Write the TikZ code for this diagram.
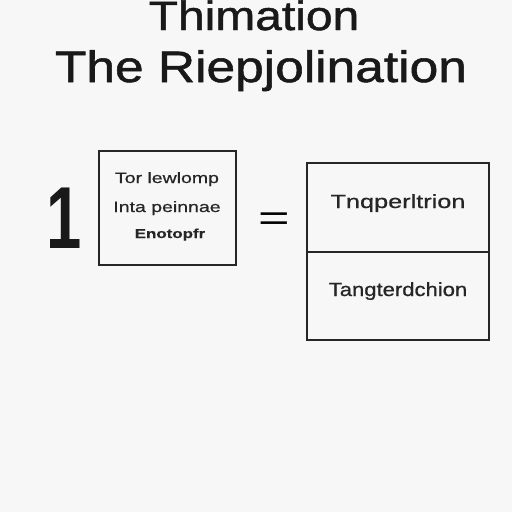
\documentclass[tikz,border=0pt]{standalone}
\usepackage{fontspec}
\setmainfont{Liberation Sans}
\newfontfamily\titlefont[FakeStretch=1.17,FakeBold=1.2]{Liberation Sans}
\newfontfamily\leftfont[FakeStretch=1.3,FakeBold=0.6]{Liberation Sans}
\newfontfamily\rightfontA[FakeStretch=1.33,FakeBold=0.8]{Liberation Sans}
\newfontfamily\rightfontB[FakeStretch=1.16,FakeBold=0.8]{Liberation Sans}
\newfontfamily\eqfont[FakeStretch=1.5]{Liberation Sans}
\newfontfamily\onefont[FakeStretch=0.72]{Liberation Sans Bold}
\begin{document}
\begin{tikzpicture}[x=1pt,y=-1pt,
  box/.style={draw=black!85, line width=1.6pt},
  title/.style={text=black!90, anchor=base},
  lbl/.style={font=\leftfont\fontsize{15}{17}\selectfont, text=black!85, anchor=base},
  rlbl/.style={text=black!85, anchor=base}]
\useasboundingbox[fill=black!3] (0,0) rectangle (512,512);
\node[title, font=\titlefont\fontsize{41}{46}\selectfont] (t1) at (254,30) {Thimation};
\node[title, font=\titlefont\fontsize{44}{48}\selectfont] (t2) at (261,82) {The Riepjolination};
\node[font=\onefont\fontsize{88}{90}\selectfont, anchor=base, text=black!90] (one) at (64,248) {1};
\draw[box] (99,151) rectangle (236,265);
\node[lbl] (a1) at (167,183) {Tor lewlomp};
\node[lbl] (a2) at (167,212) {Inta peinnae};
\node[lbl, font=\leftfont\bfseries\fontsize{13}{15}\selectfont] (a3) at (170,238) {Enotopfr};
\node[font=\eqfont\fontsize{36}{38}\selectfont, anchor=base] (eq) at (274,230) {=};
\draw[box] (307,163) rectangle (489,340);
\draw[box] (307,252) -- (489,252);
\node[rlbl, font=\rightfontA\fontsize{19}{21}\selectfont] (b1) at (398,208) {Tnqperltrion};
\node[rlbl, font=\rightfontB\fontsize{19}{21}\selectfont] (b2) at (398,296) {Tangterdchion};
\end{tikzpicture}
\end{document}
